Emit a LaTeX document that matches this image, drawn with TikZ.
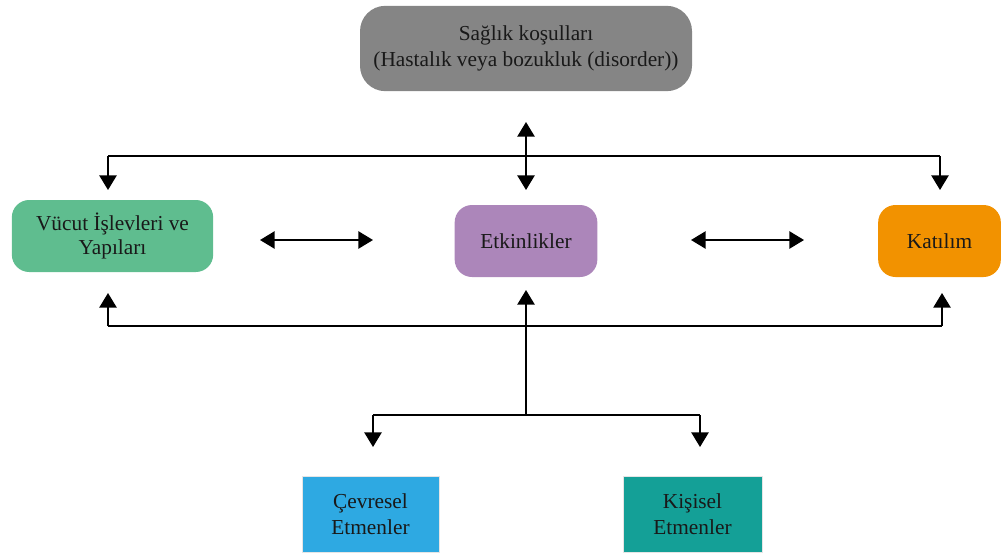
\documentclass[tikz,border=0pt]{standalone}
\usepackage{fontspec}
\setmainfont{Liberation Serif}
\usetikzlibrary{arrows.meta}

\definecolor{gri}{HTML}{858585}
\definecolor{yesil}{HTML}{5FBD8F}
\definecolor{mor}{HTML}{AC86BA}
\definecolor{turuncu}{HTML}{F29200}
\definecolor{mavi}{HTML}{2EA9E2}
\definecolor{camgobegi}{HTML}{14A097}

\tikzset{
  kutu/.style={rounded corners=13pt, align=center, inner sep=0pt, text=black!90,
    font=\fontsize{16}{20}\selectfont},
  duzkutu/.style={kutu, rounded corners=0pt, draw=white!80!gray, line width=0.4pt,
    font=\fontsize{16}{19.5}\selectfont},
  ok/.style={line width=1.2pt, -{Triangle[length=11pt,width=13pt]}},
  ciftok/.style={line width=1.2pt, {Triangle[length=11pt,width=13pt]}-{Triangle[length=11pt,width=13pt]}},
  cizgi/.style={line width=1.2pt}
}

\begin{document}
\begin{tikzpicture}[x=0.75pt,y=-0.75pt]
\useasboundingbox (0,0) rectangle (1005,557);

% kutular
\node[kutu, fill=gri, rounded corners=19pt, minimum width=249pt, minimum height=64pt] (saglik) at (526,48.5)
  {Sağlık koşulları\\(Hastalık veya bozukluk (disorder))};
\node[kutu, fill=yesil, minimum width=151pt, minimum height=54pt, font=\fontsize{16}{18}\selectfont] (vucut) at (112.5,236)
  {Vücut İşlevleri ve\\Yapıları};
\node[kutu, fill=mor, minimum width=107pt, minimum height=54pt] (etkinlik) at (526,241)
  {Etkinlikler};
\node[kutu, fill=turuncu, minimum width=92pt, minimum height=54pt] (katilim) at (939.5,241)
  {Katılım};
\node[duzkutu, fill=mavi, minimum width=103pt, minimum height=57pt] (cevre) at (370.5,514)
  {Çevresel\\Etmenler};
\node[duzkutu, fill=camgobegi, minimum width=104pt, minimum height=57pt] (kisi) at (692.5,514)
  {Kişisel\\Etmenler};

% ust baglanti
\coordinate (ust1) at (526,122);
\coordinate (ust2) at (526,190);
\coordinate (ustsol) at (108,156);
\coordinate (ustsag) at (940,156);
\draw[ciftok] (ust1) -- (ust2);
\draw[cizgi] (ustsol) -- (ustsag);
\draw[ok] (ustsol) -- (108,190);
\draw[ok] (ustsag) -- (940,190);

% yatay cift oklar
\coordinate (sol1) at (260,240);
\coordinate (sol2) at (373,240);
\coordinate (sag1) at (691,240);
\coordinate (sag2) at (804,240);
\draw[ciftok] (sol1) -- (sol2);
\draw[ciftok] (sag1) -- (sag2);

% alt baglanti
\coordinate (altsol) at (108,326);
\coordinate (altsag) at (942,326);
\coordinate (orta) at (526,326);
\coordinate (dal) at (526,415);
\draw[ok] (altsol) -- (108,293);
\draw[ok] (altsag) -- (942,293);
\draw[cizgi] (altsol) -- (altsag);
\draw[ok] (dal) -- (526,290);
\draw[cizgi] (373,415) -- (700,415);
\draw[ok] (373,415) -- (373,447);
\draw[ok] (700,415) -- (700,447);
\end{tikzpicture}
\end{document}
